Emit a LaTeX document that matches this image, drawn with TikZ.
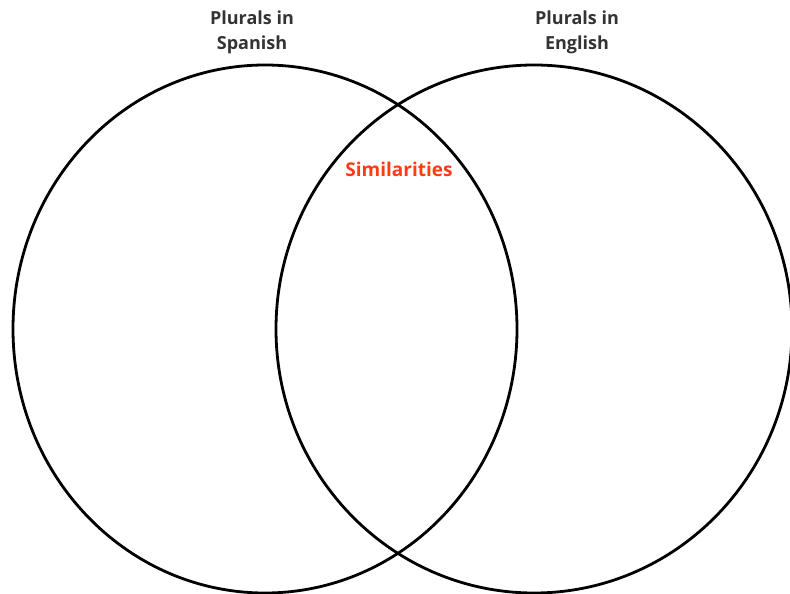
\documentclass[tikz,border=0pt]{standalone}
\usepackage{fontspec}
\setmainfont{Open Sans}
\usepackage{xcolor}
\usepackage{tikz}
\usetikzlibrary{shapes.geometric,positioning}

\definecolor{simred}{HTML}{FF3B14}
\definecolor{titlegray}{HTML}{333333}

\begin{document}
\begin{tikzpicture}[
    x=1pt, y=-1pt,
    set/.style={ellipse, draw, line width=2.8pt, inner sep=0pt},
    title/.style={text=titlegray, font=\fontsize{18}{25}\selectfont\bfseries, align=center},
    common/.style={text=simred, font=\fontsize{19}{22}\selectfont\bfseries}
]
    \clip (0,0) rectangle (790,594);
    \useasboundingbox (0,0) rectangle (790,594);

    % Sets
    \node[set, minimum width=504pt, minimum height=528pt] (spanish) at (265,329) {};
    \node[set, minimum width=516pt, minimum height=528pt] (english) at (534,329) {};

    % Titles
    \node[title] (spanishtitle) at (252,32) {Plurals in\\Spanish};
    \node[title] (englishtitle) at (577,32) {Plurals in\\English};

    % Overlap
    \node[common] (similar) at (399,169) {Similarities};
\end{tikzpicture}
\end{document}
